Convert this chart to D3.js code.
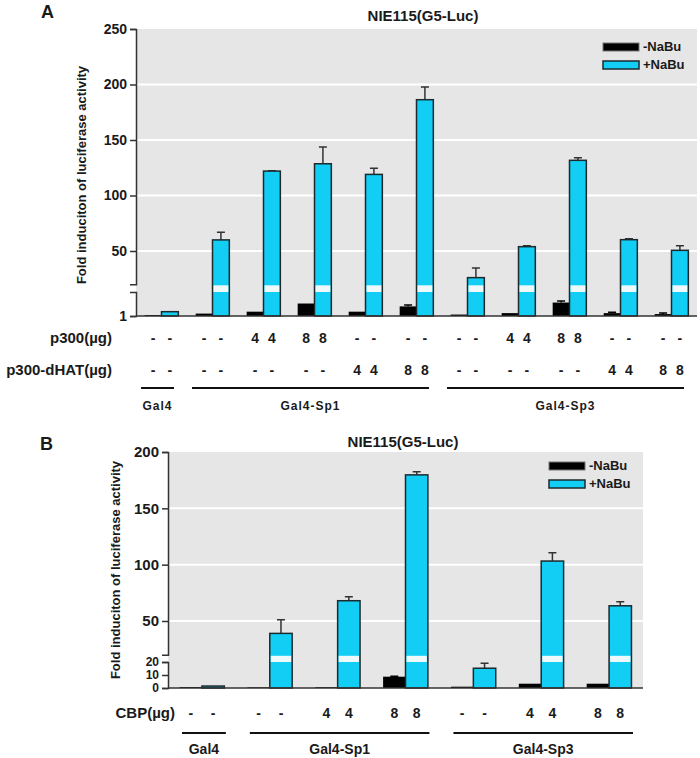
<!DOCTYPE html>
<html>
<head>
<meta charset="utf-8">
<script src="https://cdn.jsdelivr.net/npm/d3@7"></script>
<style>
  body { margin: 0; background: #fff; }
  text { font-family: "Liberation Sans", Arial, sans-serif; font-weight: bold; fill: #1a1a1a; }
</style>
</head>
<body>
<svg id="chart" width="700" height="758"></svg>
<script>
// ---- panel A data ----
var groupsA = ["Gal4", "Sp1", "Sp1+p300 4", "Sp1+p300 8", "Sp1+dHAT 4", "Sp1+dHAT 8",
               "Sp3", "Sp3+p300 4", "Sp3+p300 8", "Sp3+dHAT 4", "Sp3+dHAT 8"];
var minusNaBuA = [1.2, 1.5, 1.9, 3.6, 1.9, 3.0, 1.3, 1.6, 3.8, 1.6, 1.4];
var minusErrA  = [0, 0, 0, 0, 0, 0.3, 0, 0, 0.3, 0.2, 0.2];
var plusNaBuA  = [1.9, 60, 122, 128.6, 119, 186.3, 26, 53.9, 131.7, 60.2, 50.6];
var plusErrA   = [0, 7, 0.4, 15, 5.5, 11.5, 8.7, 0.9, 2.3, 0.8, 4.2];
var p300A      = ["-", "-", "4", "8", "-", "-", "-", "4", "8", "-", "-"];
var dHatA      = ["-", "-", "-", "-", "4", "8", "-", "-", "-", "4", "8"];
var spansA     = [["Gal4", 0, 0], ["Gal4-Sp1", 1, 5], ["Gal4-Sp3", 6, 10]];
var upperTicksA = [50, 100, 150, 200, 250];
var lowerTicksA = [1];

// ---- panel B data ----
var groupsB = ["Gal4", "Sp1", "Sp1+CBP 4", "Sp1+CBP 8", "Sp3", "Sp3+CBP 4", "Sp3+CBP 8"];
var minusNaBuB = [0.7, 0.5, 0.6, 8.7, 1.0, 3.3, 3.3];
var minusErrB  = [0, 0, 0, 0.4, 0, 0, 0];
var plusNaBuB  = [1.5, 39, 68, 179.7, 15.2, 103.2, 63.5];
var plusErrB   = [0, 12, 3.5, 2.7, 3.8, 7.4, 3.5];
var cbpB       = ["-", "-", "4", "8", "-", "4", "8"];
var spansB     = [["Gal4", 0, 0], ["Gal4-Sp1", 1, 3], ["Gal4-Sp3", 4, 6]];
var upperTicksB = [50, 100, 150, 200];
var lowerTicksB = [0, 10, 20];

var cyan = "#12cdf4";
var svg = d3.select("#chart");

function drawPanel(cfg) {
    var g = svg.append("g");
    var x = d3.scaleBand().domain(cfg.groups).range([cfg.left, cfg.right]);
    var bw = x.bandwidth() * cfg.barFrac;
    var yU = d3.scaleLinear().domain(cfg.upperDomain).range(cfg.upperRange);
    var yL = d3.scaleLinear().domain(cfg.lowerDomain).range(cfg.lowerRange);
    var base = cfg.lowerRange[0];
    var yv = v => v >= cfg.upperDomain[0] ? yU(v) : yL(v);
    var top = cfg.upperRange[1];

    // background
    g.append("rect").attr("x", cfg.left).attr("y", top)
        .attr("width", cfg.right - cfg.left).attr("height", base - top)
        .attr("fill", "#e6e6e6");
    // gridlines
    g.selectAll(".grid").data(cfg.upperTicks.filter(t => t < cfg.upperDomain[1])).enter()
        .append("line")
        .attr("x1", cfg.left).attr("x2", cfg.right)
        .attr("y1", d => yU(d)).attr("y2", d => yU(d))
        .attr("stroke", "#fff").attr("stroke-width", 2);

    // title + panel letter
    g.append("text").attr("x", cfg.titleX).attr("y", cfg.titleY)
        .attr("text-anchor", "middle").style("font-size", "15px").text("NIE115(G5-Luc)");
    g.append("text").attr("x", cfg.letterX).attr("y", cfg.letterY)
        .style("font-size", "18px").text(cfg.letter);

    // y label
    g.append("text")
        .attr("transform", `translate(${cfg.ylabX},${cfg.ylabY}) rotate(-90)`)
        .attr("text-anchor", "middle").style("font-size", "13px")
        .text("Fold induciton of luciferase activity");

    // bars
    var groupsData = cfg.groups.map((d, i) => ({ key: d, minus: cfg.minus[i], minusErr: cfg.minusErr[i],
        plus: cfg.plus[i], plusErr: cfg.plusErr[i] }));
    var bars = g.selectAll(".grp").data(groupsData).enter().append("g");
    var cx = d => x(d.key) + x.bandwidth() / 2;

    bars.append("rect")
        .attr("x", d => cx(d) - bw).attr("width", bw)
        .attr("y", d => yv(d.minus)).attr("height", d => base - yv(d.minus))
        .attr("fill", "#000");
    bars.filter(d => d.minusErr > 0).append("path")
        .attr("d", d => `M${cx(d) - bw / 2},${yv(d.minus)}V${yv(d.minus + d.minusErr)}` +
            `M${cx(d) - bw / 2 - 4},${yv(d.minus + d.minusErr)}h8`)
        .attr("stroke", "#000").attr("stroke-width", 1.5);

    bars.filter(d => d.plusErr > 0).append("path")
        .attr("d", d => `M${cx(d) + bw / 2},${yv(d.plus)}V${yv(d.plus + d.plusErr)}` +
            `M${cx(d) + bw / 2 - 4},${yv(d.plus + d.plusErr)}h8`)
        .attr("stroke", "#333").attr("stroke-width", 1.5);
    bars.append("rect")
        .attr("x", d => cx(d)).attr("width", bw)
        .attr("y", d => yv(d.plus)).attr("height", d => base - yv(d.plus))
        .attr("fill", cyan).attr("stroke", "#1c2a2e").attr("stroke-width", 1.5);
    // break band on tall bars
    bars.filter(d => d.plus >= cfg.upperDomain[0]).append("rect")
        .attr("x", d => cx(d) + 1).attr("width", bw - 2)
        .attr("y", yU(cfg.upperDomain[0]) + 1)
        .attr("height", yL(cfg.lowerDomain[1]) - yU(cfg.upperDomain[0]) - 1)
        .attr("fill", "#eef9fc");

    // baseline
    g.append("line").attr("x1", cfg.left).attr("x2", cfg.right)
        .attr("y1", base).attr("y2", base).attr("stroke", "#333").attr("stroke-width", 1.5);

    // broken y axis
    var axU = g.append("g").attr("transform", `translate(${cfg.left},0)`)
        .call(d3.axisLeft(yU).tickValues(cfg.upperTicks).tickFormat(d3.format("d"))
            .tickSize(6).tickSizeOuter(6));
    var axL = g.append("g").attr("transform", `translate(${cfg.left},0)`)
        .call(d3.axisLeft(yL).tickValues(cfg.lowerTicks).tickFormat(d3.format("d"))
            .tickSize(6).tickSizeOuter(6));
    [axU, axL].forEach(a => {
        a.selectAll("path, line").attr("stroke", "#333").attr("stroke-width", 1.5);
        a.selectAll("text").attr("fill", "#1a1a1a").attr("font-family", null);
    });
    axU.selectAll("text").style("font-size", cfg.tickFont);
    axL.selectAll("text").style("font-size", cfg.lowerTickFont);

    // legend
    var lg = g.append("g").attr("transform", `translate(${cfg.legendX},${cfg.legendY})`);
    lg.append("rect").attr("width", 36).attr("height", 8).attr("fill", "#000")
        .attr("stroke", "#777").attr("stroke-width", 1);
    lg.append("rect").attr("y", 18).attr("width", 36).attr("height", 8).attr("fill", cyan)
        .attr("stroke", "#1c2a2e").attr("stroke-width", 1.5);
    lg.append("text").attr("x", 40).attr("y", 8).style("font-size", "13px").text("-NaBu");
    lg.append("text").attr("x", 40).attr("y", 26).style("font-size", "13px").text("+NaBu");

    // treatment rows under the bars
    cfg.rows.forEach(row => {
        g.append("text").attr("x", cfg.rowLabelX).attr("y", row.y)
            .attr("text-anchor", "end").style("font-size", "15px").text(row.label);
        cfg.groups.forEach((k, i) => {
            [-bw / 2, bw / 2].forEach(off => {
                g.append("text").attr("x", x(k) + x.bandwidth() / 2 + off).attr("y", row.y)
                    .attr("text-anchor", "middle").style("font-size", "14px").text(row.values[i]);
            });
        });
    });

    // group spans
    cfg.spans.forEach(s => {
        var x1 = x(cfg.groups[s[1]]) + cfg.spanPad[0];
        var x2 = x(cfg.groups[s[2]]) + x.bandwidth() - cfg.spanPad[1];
        g.append("line").attr("x1", x1).attr("x2", x2)
            .attr("y1", cfg.spanY).attr("y2", cfg.spanY)
            .attr("stroke", "#111").attr("stroke-width", 2);
        g.append("text").attr("x", (x1 + x2) / 2).attr("y", cfg.spanY + cfg.spanTextDy)
            .attr("text-anchor", "middle").style("font-size", cfg.spanFont)
            .style("letter-spacing", cfg.spanSpacing).text(s[0]);
    });
}

drawPanel({
    letter: "A", letterX: 41, letterY: 18,
    titleX: 423, titleY: 21,
    groups: groupsA, minus: minusNaBuA, minusErr: minusErrA, plus: plusNaBuA, plusErr: plusErrA,
    left: 136, right: 697, barFrac: 0.33,
    upperDomain: [20, 250], upperRange: [284.3, 29],
    lowerDomain: [1, 6], lowerRange: [316, 292],
    upperTicks: upperTicksA, lowerTicks: lowerTicksA, tickFont: "14px", lowerTickFont: "14px",
    ylabX: 86, ylabY: 175,
    legendX: 603, legendY: 43,
    rowLabelX: 112,
    rows: [{ label: "p300(\u00b5g)", y: 343, values: p300A },
           { label: "p300-dHAT(\u00b5g)", y: 375, values: dHatA }],
    spans: spansA, spanPad: [5, 13], spanY: 388, spanTextDy: 22,
    spanFont: "12px", spanSpacing: "1px"
});

drawPanel({
    letter: "B", letterX: 40, letterY: 450,
    titleX: 403, titleY: 447,
    groups: groupsB, minus: minusNaBuB, minusErr: minusErrB, plus: plusNaBuB, plusErr: plusErrB,
    left: 168, right: 643, barFrac: 0.33,
    upperDomain: [20, 200], upperRange: [654.8, 452],
    lowerDomain: [0, 20], lowerRange: [688, 662],
    upperTicks: upperTicksB, lowerTicks: lowerTicksB, tickFont: "15px", lowerTickFont: "12px",
    ylabX: 120, ylabY: 570,
    legendX: 549, legendY: 462,
    rowLabelX: 175,
    rows: [{ label: "CBP(\u00b5g)", y: 718, values: cbpB }],
    spans: spansB, spanPad: [14, 10], spanY: 733, spanTextDy: 21,
    spanFont: "14px", spanSpacing: "0px"
});
</script>
</body>
</html>
